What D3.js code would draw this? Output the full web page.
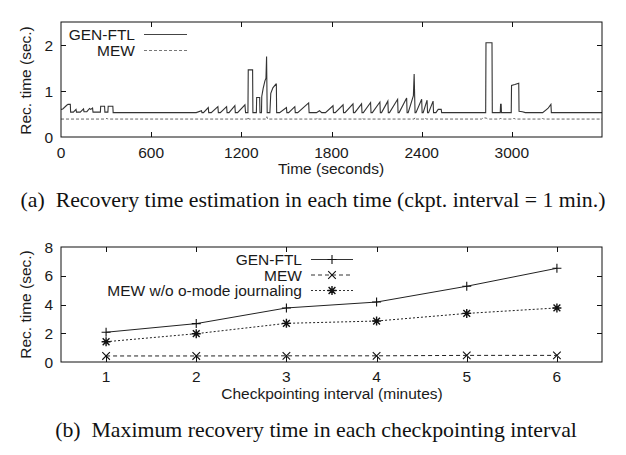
<!DOCTYPE html>
<html><head><meta charset="utf-8">
<script src="https://cdn.jsdelivr.net/npm/d3@7"></script>
<style>
body{margin:0;background:#fff;}
svg{display:block;}
text{font-family:"Liberation Sans",Arial,sans-serif;fill:#1a1a1a;}
.cap{font-family:"Liberation Serif","Times New Roman",serif;white-space:pre;fill:#111;}
</style></head>
<body>
<script>
// ---------- Chart (a): time series ----------
const timeTicks = [0, 600, 1200, 1800, 2400, 3000];
const recTicksA = [0, 1, 2];
const genTimes = [0,12,38,47,62,64, 82,100,103, 128,150,153, 172,190,198,210,213,
  262,264,290,292, 312,314,345,347, 880,
  900,935,938, 948,980,983, 1000,1044,1047, 1060,1102,1105, 1118,1157,1160, 1175,1224,1228,
  1244,1246,1275,1277, 1300,1302,1322,1324,
  1334,1336,1345,1357,1364,1368,1372,
  1390,1396,1410,1430,1433,1435,
  1455,1500,1503, 1515,1556,1559, 1575,1648,1651,
  1700,1720,1735, 1760,1810,1813, 1825,1877,1880, 1890,1943,1946, 1955,2000,2003,
  2012,2060,2063, 2072,2122,2125, 2133,2175,2178, 2186,2240,2243, 2250,2300,2303,
  2310,2345,2350,2356, 2362,2400,2403, 2410,2436,2439, 2446,2476,2479,
  2495,2510,2530,2533, 2826,2828,2868,2870, 2923,2925,2929,2931,
  2996,2998,3020,3046,3048,3070,3090, 3205,3240,3260,3263, 3600];
const genValues = [0.60,0.61,0.69,0.71,0.71,0.54, 0.54,0.60,0.54, 0.54,0.61,0.55, 0.55,0.62,0.60,0.63,0.54,
  0.54,0.67,0.67,0.54, 0.54,0.67,0.67,0.53, 0.53,
  0.53,0.57,0.53, 0.53,0.64,0.53, 0.53,0.66,0.53, 0.53,0.66,0.53, 0.53,0.68,0.53, 0.53,0.70,0.53,
  0.53,1.46,1.46,0.53, 0.53,0.86,0.86,0.53,
  0.53,0.88,1.05,1.22,1.28,1.75,0.53,
  0.53,0.95,1.07,1.15,1.15,0.53,
  0.53,0.64,0.53, 0.53,0.66,0.53, 0.53,0.74,0.53,
  0.53,0.57,0.53, 0.53,0.68,0.53, 0.53,0.70,0.53, 0.53,0.72,0.53, 0.53,0.72,0.53,
  0.53,0.75,0.53, 0.53,0.76,0.53, 0.53,0.78,0.53, 0.53,0.82,0.53, 0.53,0.85,0.53,
  0.53,0.90,1.37,0.53, 0.53,0.82,0.53, 0.53,0.80,0.53, 0.53,0.78,0.53,
  0.53,0.60,0.60,0.53, 0.53,2.05,2.05,0.53, 0.53,0.71,0.71,0.53,
  0.53,1.12,1.14,1.17,0.56,0.55,0.53, 0.53,0.62,0.71,0.53, 0.53];
const mewTimes = [0,300,305,310,1240,1245,1250,1365,1370,1375,1700,1705,1710,2000,2005,2010,
  2350,2355,2360,2420,2425,2430,2800,2810,2830,2840,2920,2925,2930,3010,3015,3020,3200,3205,3210,3600];
const mewValues = [0.39,0.39,0.41,0.39,0.39,0.43,0.39,0.39,0.44,0.39,0.39,0.41,0.39,0.39,0.41,0.39,
  0.39,0.42,0.39,0.39,0.41,0.39,0.39,0.42,0.41,0.39,0.39,0.41,0.39,0.39,0.41,0.39,0.39,0.41,0.39,0.39];

// ---------- Chart (b): checkpoint intervals ----------
const intervals = [1, 2, 3, 4, 5, 6];
const recTicksB = [0, 2, 4, 6, 8];
const genFtlMax = [2.07, 2.67, 3.76, 4.17, 5.27, 6.52];
const mewMax = [0.42, 0.42, 0.43, 0.43, 0.46, 0.46];
const mewNoOmode = [1.41, 1.97, 2.69, 2.85, 3.38, 3.76];

const W = 626, H = 455;
const FS = 15.5;
const svg = d3.select("body").append("svg").attr("width", W).attr("height", H);

const L = 61, R = 602;
// ---- panel a ----
const aTop = 22, aBot = 137;
const xa = d3.scaleLinear().domain([0, 3600]).range([L, R]);
const ya = d3.scaleLinear().domain([0, 2.5]).range([aBot, aTop]);
const ga = svg.append("g");

function frame(g, top, bot) {
  g.append("rect").attr("x", L).attr("y", top).attr("width", R - L).attr("height", bot - top)
    .attr("fill", "none").attr("stroke", "#111").attr("stroke-width", 1);
}
function ticks(g, xs, ys, xscale, yscale, top, bot, xlabY) {
  const tl = 5;
  xs.forEach(v => {
    const x = Math.round(xscale(v)) + 0.5;
    if (v !== xscale.domain()[0]) {
      g.append("line").attr("x1", x).attr("x2", x).attr("y1", bot).attr("y2", bot - tl).attr("stroke", "#111");
      g.append("line").attr("x1", x).attr("x2", x).attr("y1", top).attr("y2", top + tl).attr("stroke", "#111");
    }
    g.append("text").attr("x", xscale(v)).attr("y", xlabY).attr("text-anchor", "middle")
      .attr("font-size", FS).text(v);
  });
  ys.forEach(v => {
    const y = Math.round(yscale(v)) + 0.5;
    if (v !== yscale.domain()[0] && v !== yscale.domain()[1]) {
      g.append("line").attr("x1", L).attr("x2", L + tl).attr("y1", y).attr("y2", y).attr("stroke", "#111");
      g.append("line").attr("x1", R).attr("x2", R - tl).attr("y1", y).attr("y2", y).attr("stroke", "#111");
    }
    g.append("text").attr("x", 53).attr("y", yscale(v) + 5.5).attr("text-anchor", "end")
      .attr("font-size", FS).text(v);
  });
}

ticks(ga, timeTicks, recTicksA, xa, ya, aTop, aBot, 158);

const lineA = d3.line().x(d => xa(d[0])).y(d => ya(d[1]));
ga.append("path").datum(d3.zip(mewTimes, mewValues)).attr("d", lineA)
  .attr("fill", "none").attr("stroke", "#666").attr("stroke-width", 1).attr("stroke-dasharray", "3,2");
ga.append("path").datum(d3.zip(genTimes, genValues)).attr("d", lineA)
  .attr("fill", "none").attr("stroke", "#333").attr("stroke-width", 1.1);
frame(ga, aTop, aBot);

ga.append("text").attr("transform", `translate(31,${(aTop + aBot) / 2 + 1}) rotate(-90)`)
  .attr("text-anchor", "middle").attr("font-size", FS).text("Rec. time (sec.)");
ga.append("text").attr("x", 331).attr("y", 174).attr("text-anchor", "middle").attr("font-size", FS).text("Time (seconds)");

// legend a
const legA = [["GEN-FTL", null, "#444"], ["MEW", "3,2", "#777"]];
legA.forEach((d, i) => {
  const y = 34 + i * 16;
  ga.append("text").attr("x", 135).attr("y", y + 5.5).attr("text-anchor", "end").attr("font-size", FS).text(d[0]);
  ga.append("line").attr("x1", 144).attr("x2", 187).attr("y1", y + 0.5).attr("y2", y + 0.5)
    .attr("stroke", d[2]).attr("stroke-dasharray", d[1]);
});

svg.append("text").attr("class", "cap").attr("x", 313).attr("y", 207).attr("text-anchor", "middle")
  .attr("font-size", 21.8).text("(a)  Recovery time estimation in each time (ckpt. interval = 1 min.)");

// ---- panel b ----
const bTop = 247, bBot = 362;
const xb = d3.scaleLinear().domain([0.5, 6.5]).range([L, R]);
const yb = d3.scaleLinear().domain([0, 8]).range([bBot, bTop]);
const gb = svg.append("g");
ticks(gb, intervals, recTicksB, xb, yb, bTop, bBot, 382);

const lineB = d3.line().x((d, i) => xb(intervals[i])).y(d => yb(d));
const seriesB = [
  {name: "GEN-FTL", vals: genFtlMax, dash: null, mark: "plus"},
  {name: "MEW", vals: mewMax, dash: "4,3", mark: "cross"},
  {name: "MEW w/o o-mode journaling", vals: mewNoOmode, dash: "2,2", mark: "star"}
];
function marker(g, x, y, type) {
  const s = 4.5;
  const p = d3.path();
  if (type === "plus" || type === "star") { p.moveTo(x - s, y); p.lineTo(x + s, y); p.moveTo(x, y - s); p.lineTo(x, y + s); }
  if (type === "cross" || type === "star") { const c = type === "star" ? 3.4 : 3.8; p.moveTo(x - c, y - c); p.lineTo(x + c, y + c); p.moveTo(x - c, y + c); p.lineTo(x + c, y - c); }
  g.append("path").attr("d", p.toString()).attr("stroke", "#111").attr("stroke-width", type === "star" ? 1.4 : 1.1).attr("fill", "none");
}
seriesB.forEach(s => {
  gb.append("path").datum(s.vals).attr("d", lineB).attr("fill", "none").attr("stroke", "#222")
    .attr("stroke-width", 1).attr("stroke-dasharray", s.dash);
  s.vals.forEach((v, i) => marker(gb, xb(intervals[i]), yb(v), s.mark));
});
frame(gb, bTop, bBot);

gb.append("text").attr("transform", `translate(31,${(bTop + bBot) / 2}) rotate(-90)`)
  .attr("text-anchor", "middle").attr("font-size", FS).text("Rec. time (sec.)");
gb.append("text").attr("x", 332).attr("y", 398.5).attr("text-anchor", "middle").attr("font-size", FS).text("Checkpointing interval (minutes)");

seriesB.forEach((s, i) => {
  const y = 259.5 + i * 15.5;
  gb.append("text").attr("x", 302).attr("y", y + 5.5).attr("text-anchor", "end").attr("font-size", FS).text(s.name);
  gb.append("line").attr("x1", 311).attr("x2", 353).attr("y1", y).attr("y2", y)
    .attr("stroke", "#333").attr("stroke-dasharray", s.dash);
  marker(gb, 332, y, s.mark);
});

svg.append("text").attr("class", "cap").attr("x", 316).attr("y", 437).attr("text-anchor", "middle")
  .attr("font-size", 21.8).text("(b)  Maximum recovery time in each checkpointing interval");
</script>
</body></html>
